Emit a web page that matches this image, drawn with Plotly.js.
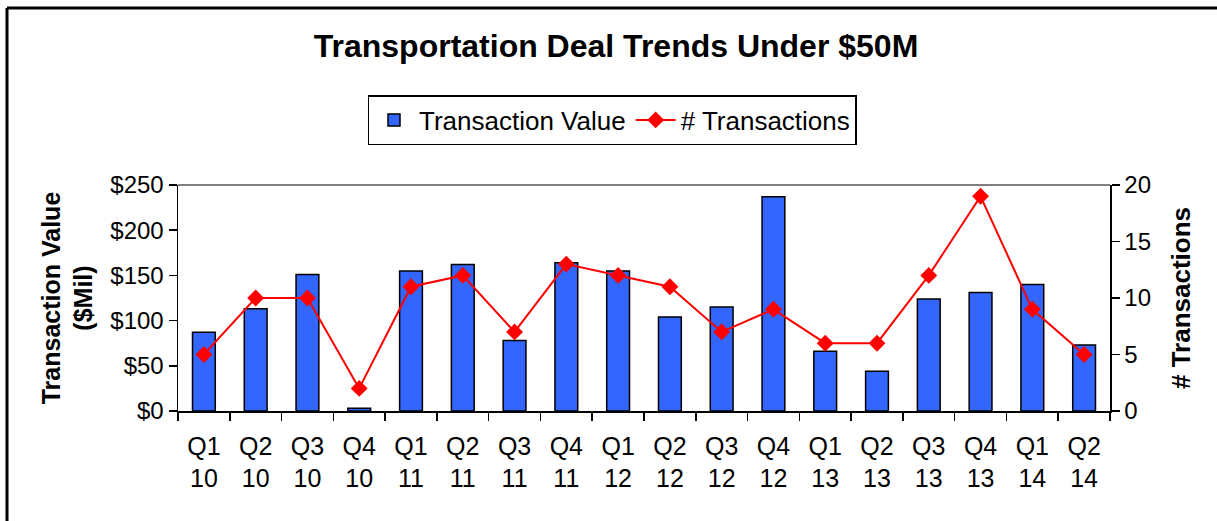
<!DOCTYPE html>
<html>
<head>
<meta charset="utf-8">
<script src="https://cdn.plot.ly/plotly-3.0.1.min.js"></script>
<style>
html,body{margin:0;padding:0;background:#fff;overflow:hidden;}
#chart{width:1217px;height:521px;}
</style>
</head>
<body>
<div id="chart"></div>
<script>
const quarters = ["Q1<br>10","Q2<br>10","Q3<br>10","Q4<br>10","Q1<br>11","Q2<br>11","Q3<br>11","Q4<br>11","Q1<br>12","Q2<br>12","Q3<br>12","Q4<br>12","Q1<br>13","Q2<br>13","Q3<br>13","Q4<br>13","Q1<br>14","Q2<br>14"];
const transactionValue = [87,113,151,3,155,162,78,164,155,104,115,237,66,44,124,131,140,73];
const numTransactions = [5,10,10,2,11,12,7,13,12,11,7,9,6,6,12,19,9,5];
const leftTicks = [0,50,100,150,200,250];
const rightTicks = [0,5,10,15,20];

const FONT = "Liberation Sans, Arial, sans-serif";

const L = 178, R = 1217-1110, T = 185, B = 521-411;
const W = 1217, H = 521;
const pw = W - L - R, ph = H - T - B;
function px(x){ return (x - L)/pw; }
function py(y){ return (H - B - y)/ph; }

const traces = [
  {
    type: "bar",
    name: "Transaction Value",
    x: quarters,
    y: transactionValue,
    marker: {color: "#3366FF", line: {color: "#000", width: 1.5}},
    yaxis: "y"
  },
  {
    type: "scatter",
    mode: "lines+markers",
    name: "# Transactions",
    x: quarters,
    y: numTransactions,
    line: {color: "#FF0000", width: 2},
    marker: {symbol: "diamond", size: 13, color: "#FF0000"},
    yaxis: "y2"
  }
];

const layout = {
  width: W, height: H,
  margin: {l: L, r: R, t: T, b: B, pad: 0},
  paper_bgcolor: "#fff",
  plot_bgcolor: "#fff",
  font: {family: FONT, color: "#000", size: 24},
  title: {
    text: "<b>Transportation Deal Trends Under $50M</b>",
    font: {family: FONT, size: 32, color: "#000"},
    x: px(616), xref: "paper", xanchor: "center",
    y: 1 - 46/H, yref: "container", yanchor: "middle"
  },
  bargap: 0.56,
  showlegend: true,
  legend: {
    orientation: "h",
    x: px(612), xanchor: "center",
    y: py(95), yanchor: "top",
    bordercolor: "#000", borderwidth: 1.5,
    bgcolor: "#fff",
    font: {family: FONT, size: 26, color: "#000"},
    itemwidth: 40,
    traceorder: "normal"
  },
  xaxis: {
    type: "category",
    range: [-0.5, 17.5],
    showline: true, linecolor: "#000", linewidth: 1.5,
    ticks: "outside", ticklen: 8, tickwidth: 1.5, tickcolor: "#000",
    tickson: "boundaries",
    ticklabelstandoff: 12,
    showgrid: false, zeroline: false,
    tickfont: {family: FONT, size: 25, color: "#000"},
    fixedrange: true
  },
  yaxis: {
    range: [0, 250],
    tickvals: leftTicks,
    ticktext: leftTicks.map(v => "$" + v),
    showline: true, linecolor: "#000", linewidth: 1.5,
    ticks: "outside", ticklen: 8, tickwidth: 1.5, tickcolor: "#000",
    showgrid: false, zeroline: false,
    tickfont: {family: FONT, size: 24, color: "#000"},
    title: {text: "<b>Transaction Value<br>($Mil)</b>", font: {family: FONT, size: 25, color: "#000"}, standoff: 10},
    automargin: false
  },
  yaxis2: {
    overlaying: "y", side: "right",
    range: [0, 20],
    tickvals: rightTicks,
    showline: true, linecolor: "#000", linewidth: 1.5,
    ticks: "outside", ticklen: 8, tickwidth: 1.5, tickcolor: "#000",
    showgrid: false, zeroline: false,
    tickfont: {family: FONT, size: 24, color: "#000"},
    title: {text: "<b># Transactions</b>", font: {family: FONT, size: 26, color: "#000"}, standoff: 22},
    automargin: false
  },
  shapes: [
    {type: "line", xref: "paper", yref: "paper", x0: 0, x1: 1, y0: 1, y1: 1, line: {color: "#808080", width: 2}},
    {type: "line", xref: "paper", yref: "paper", x0: px(7), x1: px(7), y0: py(8), y1: py(530), line: {color: "#000", width: 3}, layer: "below"},
    {type: "line", xref: "paper", yref: "paper", x0: px(7), x1: px(1217), y0: py(8), y1: py(8), line: {color: "#000", width: 3}, layer: "below"}
  ]
};

Plotly.newPlot("chart", traces, layout, {displayModeBar: false, staticPlot: true});
</script>
</body>
</html>
